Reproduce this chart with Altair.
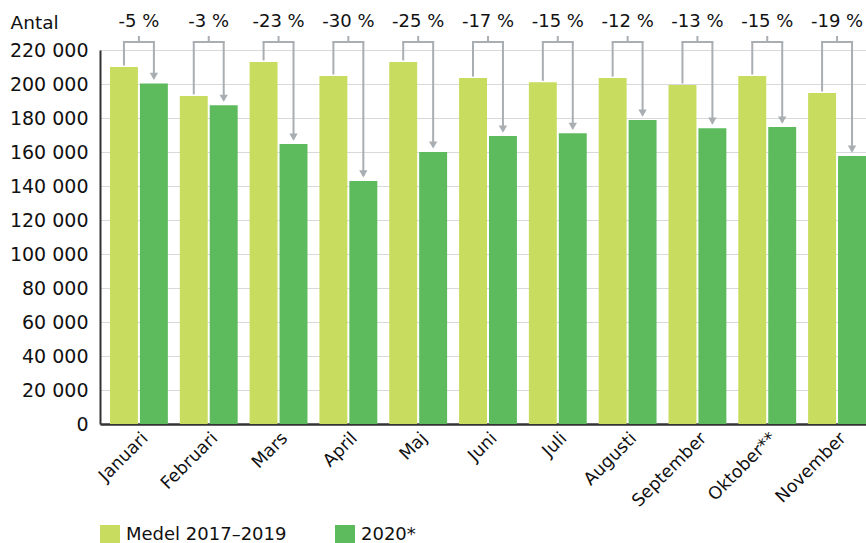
import altair as alt
import pandas as pd

months = ["Januari", "Februari", "Mars", "April", "Maj", "Juni", "Juli",
          "Augusti", "September", "Oktober**", "November"]
medel = [210000, 193000, 213000, 204700, 213000, 203500, 201000,
         203500, 199400, 204700, 194700]
y2020 = [200300, 187500, 164700, 143000, 160000, 169400, 171000,
         178800, 174000, 174700, 157600]
pct = [-5, -3, -23, -30, -25, -17, -15, -12, -13, -15, -19]
series = ["Medel 2017–2019", "2020*"]
colors = ["#c8dc5f", "#5dbb5e"]
yticks = list(range(0, 220001, 20000))

FONT = "DejaVu Sans"
GRAY = "#a9aeb3"
PX = 220000 / 374.0  # data units per pixel
LEVEL = 224700       # bracket level
LABEL_Y = 236500

bars = pd.DataFrame(
    [{"month": m, "series": series[0], "value": a} for m, a in zip(months, medel)]
    + [{"month": m, "series": series[1], "value": b} for m, b in zip(months, y2020)]
)

left = pd.DataFrame({"month": months, "series": series[0],
                     "y": [v + 1.5 * PX for v in medel], "y2": LEVEL})
right = pd.DataFrame({"month": months, "series": series[1],
                      "y": [v + 5 * PX for v in y2020], "y2": LEVEL})
mid = pd.DataFrame({"month": months, "y": LEVEL, "y2": LEVEL + 6 * PX,
                    "label": [f"{p} %" for p in pct], "ly": LABEL_Y})
tips = pd.DataFrame({"month": months, "series": series[1], "y": y2020})

xscale = alt.Scale(domain=months, paddingInner=0.171, paddingOuter=0.0715, align=1)
xoff = alt.Scale(domain=series, paddingInner=0.067)
yscale = alt.Scale(domain=[0, 220000], nice=False)

XAX = alt.Axis(labelAngle=-45, labelFontSize=17.5, labelFont=FONT,
               labelColor="#111", ticks=False, domainColor="#333",
               domainWidth=2.5, labelPadding=5, labelAlign="right",
               labelBaseline="top")
YAX = alt.Axis(values=yticks, labelFontSize=19, labelFont=FONT,
               labelColor="#111", ticks=False, domainColor="#333",
               domainWidth=2, labelPadding=12, gridColor="#d9d9d9",
               labelOverlap=False, labelFlush=False,
               labelExpr="replace(format(datum.value, ',d'), ',', ' ')",
               titleAngle=0, titleAlign="left", titleX=-90, titleY=-28,
               titleBaseline="middle", titleFontSize=18.5, titleFont=FONT,
               titleFontWeight="normal", titleColor="#111")

XN = alt.X("month:N", scale=xscale, sort=months, title=None, axis=XAX)
XO = alt.XOffset("series:N", scale=xoff, sort=series)

def YN(f):
    return alt.Y(f, scale=yscale, title="Antal", axis=YAX)

bar = alt.Chart(bars).mark_bar().encode(
    x=XN, xOffset=XO, y=YN("value:Q"),
    color=alt.Color("series:N", scale=alt.Scale(domain=series, range=colors),
                    sort=series,
                    legend=alt.Legend(title=None, orient="none", legendX=0, legendY=475,
                                      direction="horizontal", symbolType="square",
                                      symbolSize=400, symbolStrokeWidth=0,
                                      labelFontSize=18, labelFont=FONT, labelLimit=0,
                                      labelColor="#111", columnPadding=48,
                                      labelOffset=6)),
)

def vrule(df):
    return alt.Chart(df).mark_rule(color=GRAY, strokeWidth=2).encode(
        x=XN, xOffset=XO, y=YN("y:Q"), y2="y2:Q")

hline = alt.Chart(mid).mark_tick(color=GRAY, thickness=2, size=32, opacity=1).encode(
    x=XN, y=YN("y:Q"))
mtick = alt.Chart(mid).mark_rule(color=GRAY, strokeWidth=2).encode(
    x=XN, y=YN("y:Q"), y2="y2:Q")
arrow = alt.Chart(tips).mark_point(shape="triangle-down", filled=True, size=70,
                                   color=GRAY, opacity=1, yOffset=-7).encode(
    x=XN, xOffset=XO, y=YN("y:Q"))
text = alt.Chart(mid).mark_text(fontSize=18, font=FONT, color="#111",
                                baseline="middle").encode(
    x=XN, y=YN("ly:Q"), text="label:N")

chart = alt.layer(bar, vrule(left), vrule(right), hline, mtick, arrow, text).properties(
    width=766, height=374,
    autosize=alt.AutoSizeParams(type="none"),
    padding={"left": 100, "top": 50, "right": 0, "bottom": 119},
).configure_view(stroke=None).configure_axisY(labelOverlap=False).configure(background="white")

chart.save("out.html", embed_options={"renderer": "svg", "actions": False})
